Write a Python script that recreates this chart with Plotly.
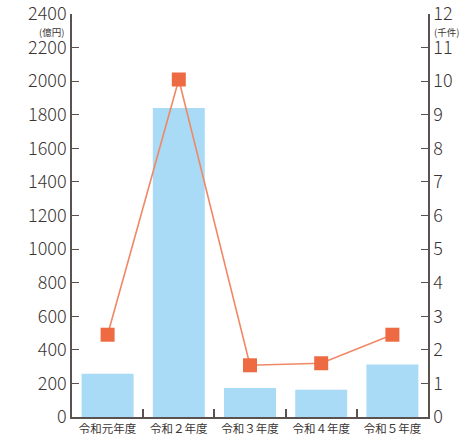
import plotly.graph_objects as go

years = ["令和元年度", "令和２年度", "令和３年度", "令和４年度", "令和５年度"]
amount_oku_yen = [258, 1840, 172, 162, 312]      # bars, left axis (億円)
count_thousand = [2.45, 10.05, 1.54, 1.6, 2.45]  # line, right axis (千件)

left_ticks = list(range(0, 2401, 200))
right_ticks = list(range(0, 13))

axis_col = "#5a5250"
text_col = "#3b3534"
num_font = dict(family="Noto Sans CJK JP, Noto Sans, sans-serif", size=18, color=text_col, weight=300)
unit_font = dict(family="Noto Sans CJK JP, sans-serif", size=9.5, color=text_col)

fig = go.Figure()
fig.add_trace(go.Bar(
    x=years, y=amount_oku_yen, marker=dict(color="#a9dbf6", line=dict(width=0)),
    width=0.73, yaxis="y",
))
fig.add_trace(go.Scatter(
    x=years, y=count_thousand, yaxis="y2", mode="lines+markers",
    line=dict(color="#f08866", width=1.6),
    marker=dict(symbol="square", size=14, color="#ee6a43"),
))

fig.update_layout(
    width=468, height=446,
    margin=dict(l=72, r=40, t=14, b=29),
    paper_bgcolor="white", plot_bgcolor="white",
    showlegend=False,
    xaxis=dict(
        type="category", range=[-0.5, 4.5], automargin=False,
        showline=True, linecolor=axis_col, linewidth=2,
        ticks="inside", tickson="boundaries", ticklen=8, tickcolor=axis_col, tickwidth=1.5,
        tickfont=dict(family="Noto Sans CJK JP, sans-serif", size=11.5, color=text_col),
        showgrid=False,
    ),
    yaxis=dict(
        range=[0, 2400], tickvals=left_ticks, showline=True, linecolor=axis_col, linewidth=1.5,
        ticks="inside", ticklen=7, tickcolor=axis_col, tickwidth=1.2, automargin=False,
        tickfont=num_font, showgrid=False, zeroline=False, ticklabeloverflow="allow",
    ),
    yaxis2=dict(
        range=[0, 12], tickvals=right_ticks, overlaying="y", side="right",
        showline=True, linecolor=axis_col, linewidth=1.5, automargin=False,
        ticks="inside", ticklen=7, tickcolor=axis_col, tickwidth=1.2,
        tickfont=num_font, showgrid=False, zeroline=False, ticklabeloverflow="allow",
    ),
    annotations=[
        dict(text="(億円)", xref="paper", yref="paper", x=-0.016, y=0.955,
             xanchor="right", yanchor="middle", showarrow=False, font=unit_font),
        dict(text="(千件)", xref="paper", yref="paper", x=1.01, y=0.955,
             xanchor="left", yanchor="middle", showarrow=False, font=unit_font),
    ],
)

fig.write_html("out.html")
